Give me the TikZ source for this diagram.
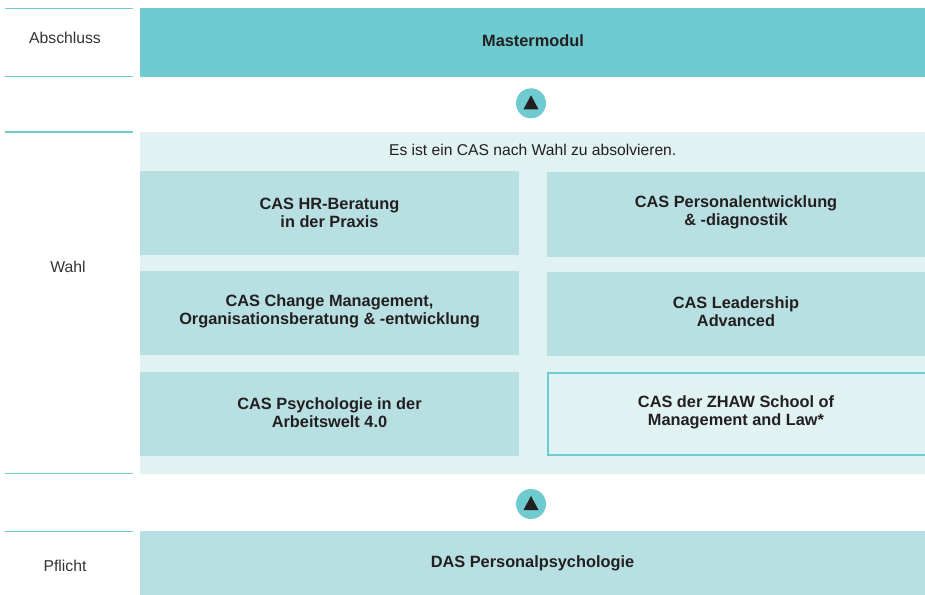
\documentclass[tikz,border=0pt]{standalone}
\usepackage{fontspec}
\setmainfont{Liberation Sans}
\definecolor{tealD}{HTML}{6FCBD0}
\definecolor{tealM}{HTML}{B8E0E2}
\definecolor{tealL}{HTML}{E0F2F2}
\definecolor{txt}{HTML}{231F20}
\definecolor{lbl}{HTML}{333333}
\tikzset{
  casbox/.style={fill=tealM, draw=none},
  btxt/.style={text=txt, font=\fontsize{16.4}{18.3}\selectfont\bfseries, align=center},
  rtxt/.style={text=lbl, font=\fontsize{15.8}{18}\selectfont, align=center},
  sepline/.style={draw=tealD, line width=1.3bp},
  arrowcirc/.style={circle, fill=tealD, minimum size=30bp, inner sep=0pt}
}
\begin{document}
\begin{tikzpicture}[x=1bp,y=-1bp]
\useasboundingbox (0,0) rectangle (925,595);
\fill[white] (0,0) rectangle (925,595);
% left separator lines
\foreach \yy in {8.5,76.3,132,473.7,531.7}
  \draw[sepline] (5,\yy) -- (133,\yy);
% labels
\node[rtxt] (labA) at (65,37.5) {Abschluss};
\node[rtxt] (labW) at (68,267) {Wahl};
\node[rtxt] (labP) at (65,565.5) {Pflicht};
% Mastermodul
\fill[tealD] (140,8) rectangle (925,77);
\node[btxt] (master) at (533,40.5) {Mastermodul};
% Wahl background
\fill[tealL] (140,132) rectangle (925,474);
\node[text=txt, font=\fontsize{15.7}{18}\selectfont] (hint) at (532.7,150) {Es ist ein CAS nach Wahl zu absolvieren.};
% CAS boxes
\fill[casbox] (140,171) rectangle (519,255);
\node[btxt] (c1) at (329.5,212.5) {CAS HR-Beratung\\in der Praxis};
\fill[casbox] (547,172.5) rectangle (925,256.5);
\node[btxt] (c2) at (736,212.5) {CAS Personalentwicklung\\\& -diagnostik};
\fill[casbox] (140,271) rectangle (519,355);
\node[btxt] (c3) at (329.5,311.5) {CAS Change Management,\\Organisationsberatung \& -entwicklung};
\fill[casbox] (547,272) rectangle (925,356);
\node[btxt] (c4) at (736,311.5) {CAS Leadership\\Advanced};
\fill[casbox] (140,372) rectangle (519,456);
\node[btxt] (c5) at (329.5,412.5) {CAS Psychologie in der\\Arbeitswelt 4.0};
\draw[tealD, line width=2bp] (548,373) rectangle (926,455);
\node[btxt] (c6) at (736,412.5) {CAS der ZHAW School of\\Management and Law*};
% Pflicht
\fill[tealM] (140,531) rectangle (925,595);
\node[btxt] (das) at (532.5,563.5) {DAS Personalpsychologie};
% arrow circles
\node[arrowcirc] (up1) at (531,103.3) {};
\fill[txt] ([xshift=-7.5bp,yshift=-6bp]up1.center) -- ([xshift=7.5bp,yshift=-6bp]up1.center) -- ([yshift=8bp]up1.center) -- cycle;
\node[arrowcirc] (up2) at (531,504) {};
\fill[txt] ([xshift=-7.5bp,yshift=-6bp]up2.center) -- ([xshift=7.5bp,yshift=-6bp]up2.center) -- ([yshift=8bp]up2.center) -- cycle;
\end{tikzpicture}
\end{document}
